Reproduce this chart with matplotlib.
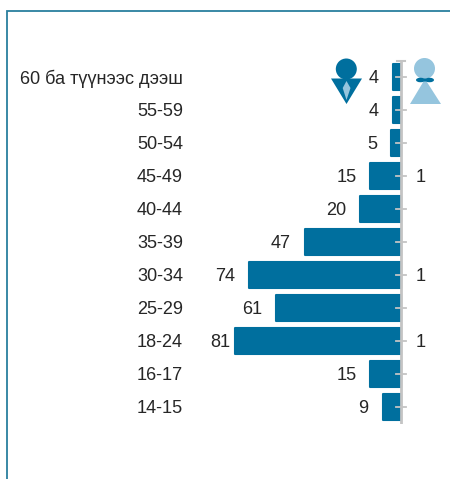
import matplotlib
matplotlib.use('Agg')
import matplotlib.pyplot as plt
from matplotlib.patches import Circle, Polygon, Ellipse

plt.rcParams['font.family'] = ['Liberation Sans', 'DejaVu Sans']

# Data
age_groups = ['60 ба түүнээс дээш', '55-59', '50-54', '45-49', '40-44', '35-39',
              '30-34', '25-29', '18-24', '16-17', '14-15']
male = [4, 4, 5, 15, 20, 47, 74, 61, 81, 15, 9]
female = [0, 0, 0, 1, 0, 0, 1, 0, 1, 0, 0]

W, H = 450, 479
dark = '#006f9e'
light = '#95c5de'
grey = '#c4c4c4'
txt = '#262626'
fs = 13.1

fig = plt.figure(figsize=(W / 100, H / 100), dpi=100)

# Overlay in pixel coordinates for the frame and the icons
bg = fig.add_axes([0, 0, 1, 1])
bg.set_xlim(0, W)
bg.set_ylim(H, 0)
bg.axis('off')
bg.plot([7, 7, W], [H, 11, 11], color='#2a7f9e', linewidth=1.3, solid_joinstyle='miter')

# Male icon
bg.add_patch(Circle((346.3, 69), 10.5, color=dark, linewidth=0))
bg.add_patch(Polygon([[331, 78.5], [362, 78.5], [346.5, 104]], color=dark, linewidth=0))
bg.add_patch(Polygon([[346.5, 81], [350.5, 88], [346.5, 100], [342.7, 88]], color=light, linewidth=0))

# Female icon
bg.add_patch(Circle((424.5, 68.5), 10.5, color=light, linewidth=0))
bg.add_patch(Polygon([[425, 79], [410, 104], [441, 104]], color=light, linewidth=0))
bg.add_patch(Ellipse((420.5, 80), 9, 4.5, color=dark, linewidth=0))
bg.add_patch(Ellipse((429.5, 80), 9, 4.5, color=dark, linewidth=0))
bg.add_patch(Ellipse((425, 80), 5, 3, color=dark, linewidth=0))

# Data axes: zero at x=401, rows every 33 px
left_px, right_px = 190, 440
top_px, bot_px = 60.5, 423.5
ax = fig.add_axes([left_px / W, 1 - bot_px / H, (right_px - left_px) / W, (bot_px - top_px) / H])
ax.patch.set_alpha(0)
px_per_unit = 2.05
ax.set_xlim(-(401 - left_px) / px_per_unit, (right_px - 401) / px_per_unit)
ax.set_ylim(len(age_groups) - 0.5, -0.5)
for s in ax.spines.values():
    s.set_visible(False)

ypos = list(range(len(age_groups)))
ax.barh(ypos, [-m for m in male], height=0.8, color=dark, edgecolor=dark, linewidth=1.5,
        joinstyle='round', zorder=2)
ax.plot([0, 0], [-0.5, len(age_groups) - 0.5], color=grey, linewidth=2, zorder=3)
ax.plot([-2, 2], [-0.5, -0.5], color=grey, linewidth=1.5, zorder=3, clip_on=False)

ax.set_yticks([])
ax.set_xticks([])
for y in ypos:
    ax.plot([-2.2, 2.2], [y, y], color=grey, linewidth=1.3, zorder=3)
    ax.annotate(age_groups[y], (0, y), xycoords=('axes fraction', 'data'), xytext=(-5, -1.3),
                textcoords='offset points', ha='right', va='center', fontsize=fs, color=txt,
                annotation_clip=False)
    # the longest bar has its label pushed up against the bar
    gap = -3 if male[y] == max(male) else -10
    ax.annotate(str(male[y]), (-male[y], y), xytext=(gap, -1.3), textcoords='offset points',
                ha='right', va='center', fontsize=fs, color=txt)
    if female[y]:
        ax.annotate(str(female[y]), (female[y], y), xytext=(9, -1.3), textcoords='offset points',
                    ha='left', va='center', fontsize=fs, color=txt)

fig.savefig('out.png', dpi=100)
